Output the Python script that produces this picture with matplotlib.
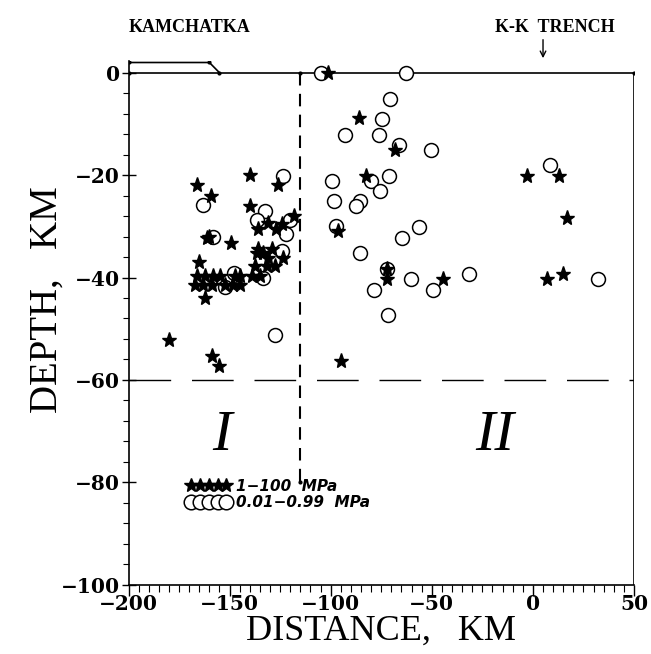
import numpy as np
import matplotlib.pyplot as plt
from matplotlib.lines import Line2D
from matplotlib.ticker import MultipleLocator

# события 1-100 MPa (звёзды)
star_x = [-166, -159, -140, -126, -140, -118, -136, -131, -127, -124,
          -161, -160, -149.5, -165, -136.6, -133.3, -137.4, -131.7, -127.5, -139,
          -135, -135.8, -129.2, -130.9, -123.4, -166.3, -162.2, -158.1, -154.7, -147.3,
          -144.9, -167.1, -163, -158.9, -152.3, -148.2, -144.9, -162, -180, -158.5,
          -155.2,
          -101.2, -86, -68, -82.5, -96.5, -72.3, -72.3, -44.4, -94.7,
          -3, 13, 17, 7, 15]
star_y = [-22, -24, -20, -22, -26, -28, -30.6, -29.3, -30.6, -29.6,
          -32.3, -32, -33.2, -37, -35.3, -35.2, -37.8, -37.8, -37.8, -39.7,
          -39.7, -34.5, -34.5, -36.1, -36.1, -39.7, -39.7, -39.7, -39.7, -39.7,
          -39.7, -41.4, -41.4, -41.4, -41.4, -41.4, -41.4, -44, -52.3, -55.3,
          -57.3,
          0, -8.9, -15, -20.1, -31, -38.3, -40.2, -40.2, -56.3,
          -20.1, -20.1, -28.3, -40.3, -39.3]

# события 0.01-0.99 MPa (кружки)
circ_x = [-123.7, -163.3, -132.5, -136.5, -120, -122, -158, -124.2, -148, -152.3,
          -133.7, -127.6,
          -104.9, -62.8, -70.7, -74.8, -92.9, -76.1, -66, -50.5, -99.3, -80,
          -71.2, -75.5, -98.4, -85.3, -87.3, -97.5, -56.5, -64.5, -85.5, -72.3,
          -60.5, -78.6, -49.3, -31.4, -71.7, 8.3, 32]
circ_y = [-20.1, -25.8, -27, -28.7, -28.7, -31.5, -32.1, -34.8, -39.2, -41.8,
          -40, -51.2,
          0, 0, -5.2, -9.1, -12.1, -12.1, -14.1, -15.1, -21.1, -21.2,
          -20.1, -23.1, -25.1, -25, -26.1, -30, -30.1, -32.2, -35.2, -38.3,
          -40.2, -42.4, -42.4, -39.3, -47.4, -18.1, -40.3]

# рельеф Камчатки
topo_x = [-200, -160, -155]
topo_y = [2, 2, 0]

x_ticks = [-200, -150, -100, -50, 0, 50]
y_ticks = [0, -20, -40, -60, -80, -100]

serif = 'Liberation Serif'

fig = plt.figure(figsize=(6.51, 6.54), dpi=100)
ax = fig.add_axes([0.1974, 0.106, 0.7765, 0.800])

# линии разреза
ax.plot([-200, 50], [0, 0], color='black', lw=1.2, marker='.', ms=4, markevery=[0, 1])
ax.plot([50, 50], [0, -100], color='black', lw=1.2)
ax.plot(topo_x, topo_y, color='black', lw=1.2, marker='.', ms=4)
ax.plot([-115, -115], [0, -80], color='black', lw=1.5, ls=(0, (6, 4)))
ax.plot([-115], [-80], 'k.', ms=4)
ax.plot([-115], [0], 'k.', ms=4)
ax.plot([-200, 50], [-60, -60], color='black', lw=1.0, ls=(0, (30, 15)))

ax.plot(circ_x, circ_y, 'o', ms=10, mfc='white', mec='black', mew=1.1, ls='none')
ax.plot(star_x, star_y, '*', ms=11, color='black', ls='none')

ax.set_xlim(-200, 50)
ax.set_ylim(-100, 2.2)
ax.set_xticks(x_ticks)
ax.set_yticks(y_ticks)
ax.xaxis.set_minor_locator(MultipleLocator(5))
ax.yaxis.set_minor_locator(MultipleLocator(4))
ax.tick_params(axis='x', which='major', direction='out', length=8, width=1, pad=-1)
ax.tick_params(axis='x', which='minor', direction='out', length=5, width=0.8)
ax.tick_params(axis='y', which='major', direction='inout', length=10, width=1, pad=1)
ax.tick_params(axis='y', which='minor', direction='out', length=4, width=0.8)
ax.set_xticklabels(['\u2212200', '\u2212150', '\u2212100', '\u221250', '0', '50'])
ax.set_yticklabels(['0', '\u221220', '\u221240', '\u221260', '\u221280', '\u2212100'])
for lab in ax.get_xticklabels() + ax.get_yticklabels():
    lab.set_fontfamily('DejaVu Serif')
    lab.set_fontweight('bold')
    lab.set_fontsize(14.5)

for s in ['top', 'right']:
    ax.spines[s].set_visible(False)
for s in ['left', 'bottom']:
    ax.spines[s].set_linewidth(1.2)

ax.set_xlabel('DISTANCE,   KM', fontfamily=serif, fontsize=26)
ax.xaxis.set_label_coords(0.5, -0.058)
ax.set_ylabel('DEPTH,   KM', fontfamily=serif, fontsize=28)
ax.yaxis.set_label_coords(-0.125, 0.545)

ax.text(-170, 8.8, 'KAMCHATKA', fontfamily=serif, fontweight='bold', fontsize=13,
        ha='center', va='center', clip_on=False)
ax.text(11, 8.8, 'K-K  TRENCH', fontfamily=serif, fontweight='bold', fontsize=13,
        ha='center', va='center', clip_on=False)
ax.annotate('', xy=(5, 2.3), xytext=(5, 7), annotation_clip=False,
            arrowprops=dict(arrowstyle='->', color='black', lw=1))

ax.text(-154, -71, 'I', fontfamily=serif, fontstyle='italic', fontsize=42,
        ha='center', va='center')
ax.text(-19, -71, 'II', fontfamily=serif, fontstyle='italic', fontsize=42,
        ha='center', va='center')

handles = [Line2D([], [], ls='none', marker='*', ms=10, color='black'),
           Line2D([], [], ls='none', marker='o', ms=10.5, mfc='white', mec='black', mew=1.1)]
leg = ax.legend(handles, ['1\u2212100  MPa', '0.01\u22120.99  MPa'], numpoints=5,
                handlelength=2.9, handletextpad=0.35, labelspacing=0.1, borderpad=0,
                frameon=False, loc='upper left', bbox_to_anchor=(0.1, 0.217),
                prop=dict(family='DejaVu Sans', weight='bold', style='italic', size=11))

fig.savefig('out.png', dpi=100)
